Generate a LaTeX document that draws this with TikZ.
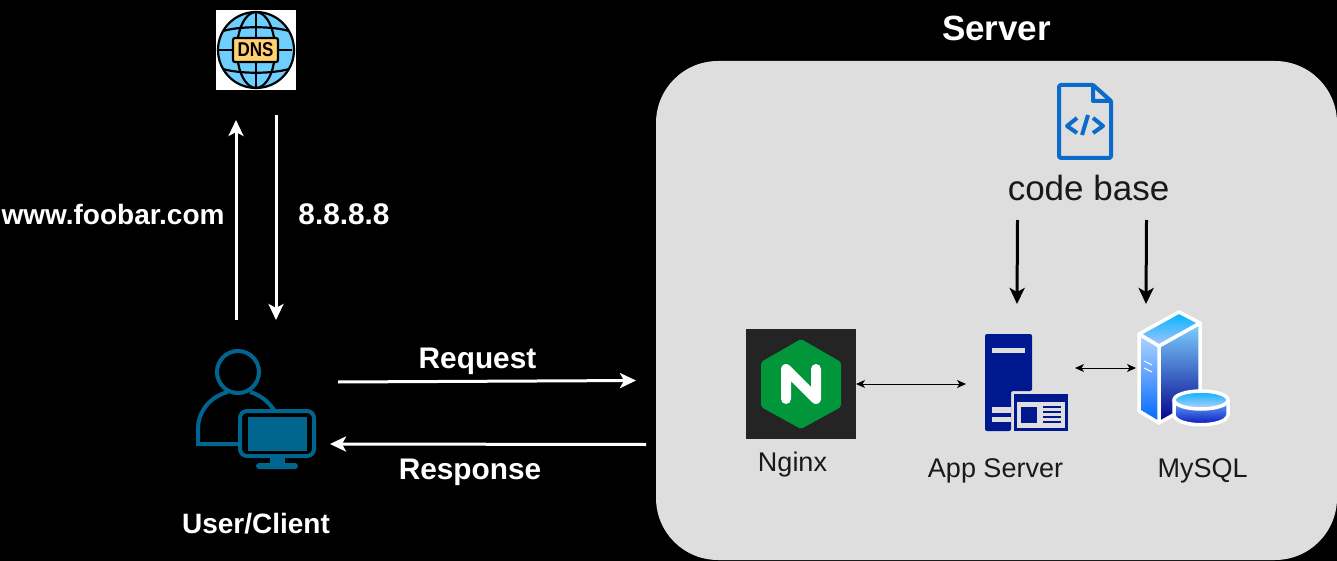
\documentclass[tikz,border=0pt]{standalone}
\usepackage{fontspec}
\setmainfont{Liberation Sans}
\usetikzlibrary{arrows.meta, positioning}
\definecolor{panelgray}{HTML}{DEDEDE}
\definecolor{userblue}{HTML}{00668F}
\definecolor{fileblue}{HTML}{0B6BCB}
\definecolor{hostblue}{HTML}{00188F}
\definecolor{nginxgreen}{HTML}{009639}
\definecolor{globeblue}{HTML}{6ECFFF}
\definecolor{tagyellow}{HTML}{FFCF70}
\tikzset{
    iconbox/.style={inner sep=0pt, outer sep=0pt},
    whitelabel/.style={text=white, inner sep=0pt, font=\fontsize{28}{30}\selectfont\bfseries},
    arrowlabel/.style={whitelabel, font=\fontsize{29.8}{32}\selectfont\bfseries},
    graylabel/.style={text=black!90, inner sep=0pt, font=\fontsize{27}{30}\selectfont},
    bigarrow/.style={white, line width=3pt, -{Stealth[length=16pt,width=15pt,inset=4pt]}},
    codearrow/.style={black, line width=3pt, -{Stealth[length=16pt,width=15pt,inset=4pt]}},
    linkarrow/.style={black, line width=1pt, {Stealth[length=9pt,width=8pt,inset=2.5pt]}-{Stealth[length=9pt,width=8pt,inset=2.5pt]}},
}

\begin{document}
\begin{tikzpicture}[x=1pt,y=-1pt]
  \useasboundingbox (0,0) rectangle (1337,561);
  \fill[black] (0,0) rectangle (1337,561);

  % server panel
  \node[iconbox, fill=panelgray, rounded corners=62pt, minimum width=681pt, minimum height=499pt] (server) at (996.5,310.5) {};
  \node[whitelabel, font=\fontsize{35}{38}\selectfont\bfseries] (servertitle) at (996.5,28) {Server};

  % dns
  \node[iconbox, fill=white, minimum size=80pt] (dns) at (256,50) {};
  \fill[globeblue] (256,50) circle[radius=38pt];
  \begin{scope}[black, line width=2.2pt]
    \draw (256,50) circle[radius=38pt];
    \draw (256,50) ellipse[x radius=19pt, y radius=38pt];
    \draw (256,12) -- (256,88);
    \draw (218,50) -- (292,50);
    \draw (223,31) .. controls (240,26) and (272,26) .. (289,31);
    \draw (223,69) .. controls (240,74) and (272,74) .. (289,69);
  \end{scope}
  \node[iconbox, draw=black, line width=2.2pt, fill=tagyellow, rounded corners=2pt, minimum width=45pt, minimum height=24pt] (dnstag) at (255.5,50) {};
  \node[iconbox, text=black, xscale=.85, font=\fontsize{20}{20}\selectfont\bfseries] (dnstext) at (255.5,50) {DNS};

  % user and screen
  \node[iconbox, minimum width=119pt, minimum height=150pt] (user) at (256.5,395) {};
  \begin{scope}[userblue, line width=4pt]
    \draw (238,372) circle[radius=21pt];
    \draw (228,392) .. controls (208,397) and (198,414) .. (198,428) -- (198,444) -- (238,444);
    \draw (250,392) .. controls (260,395) and (268,401) .. (274,410);
    \draw[rounded corners=7pt] (240,411) rectangle (314,456);
    \fill (248,417) rectangle (307,451);
    \fill (270,457) rectangle (285,464);
    \fill[rounded corners=3pt] (256,463) rectangle (298,469);
  \end{scope}

  % nginx
  \node[iconbox, fill=black!86, minimum size=110pt] (nginx) at (801,384) {};
  \fill[nginxgreen, rounded corners=2pt] (801,339) -- (841,362) -- (841,407) -- (801,429) -- (761,407) -- (761,362) -- cycle;
  \draw[white, line width=10pt, line cap=round, line join=round] (786,399) -- (786,369) -- (816,399) -- (816,369);

  % app server
  \node[iconbox, minimum width=83pt, minimum height=97pt] (appserver) at (1026.5,382.5) {};
  \fill[hostblue, rounded corners=2pt] (985,431) -- (985,334) -- (1032,334) -- (1032,391) -- (1011,391) -- (1011,431) -- cycle;
  \fill[panelgray] (992,348) rectangle (1025,353);
  \fill[panelgray] (985,407) rectangle (1011,413);
  \fill[panelgray] (985,417) rectangle (1011,422);
  \fill[hostblue] (985,407) rectangle (992,422);
  \fill[hostblue] (1014,394) rectangle (1068,431);
  \fill[panelgray] (1017,402) rectangle (1065,428);
  \fill[hostblue] (1021,407) rectangle (1037,423);
  \foreach \liney in {407,412,417,422}
    \draw[hostblue, line width=2pt] (1043,\liney) -- (1061,\liney);

  % mysql
  \node[iconbox, minimum width=89pt, minimum height=113pt] (mysql) at (1183.5,368.5) {};
  \begin{scope}[draw=white, line width=3.5pt, line join=round]
    \shade[top color=blue!35!cyan!50, bottom color=blue!55!black] (1159,346) -- (1200,323) -- (1200,400) -- (1159,423) -- cycle;
    \draw (1159,346) -- (1200,323) -- (1200,400) -- (1159,423) -- cycle;
    \shade[top color=cyan!45!blue!30, bottom color=blue!60!cyan] (1139,334) -- (1159,346) -- (1159,423) -- (1139,411) -- cycle;
    \draw (1139,334) -- (1159,346) -- (1159,423) -- (1139,411) -- cycle;
    \shade[top color=cyan!70!blue, bottom color=cyan!35!blue!35] (1179,312) -- (1200,323) -- (1159,346) -- (1139,334) -- cycle;
    \draw (1179,312) -- (1200,323) -- (1159,346) -- (1139,334) -- cycle;
    \shade[top color=blue!50!cyan!60, bottom color=blue!70!black] (1174,400) -- (1174,415) .. controls (1176,428) and (1226,428) .. (1228,415) -- (1228,400) -- cycle;
    \draw (1174,400) -- (1174,415) .. controls (1176,428) and (1226,428) .. (1228,415) -- (1228,400);
    \shade[top color=cyan!70!blue, bottom color=cyan!25!blue!25] (1201,400) ellipse[x radius=27pt, y radius=9pt];
    \draw (1201,400) ellipse[x radius=27pt, y radius=9pt];
  \end{scope}
  \draw[white, line width=1pt] (1144,361) -- (1152,365);
  \draw[white, line width=1pt] (1144,368) -- (1152,372);

  % code base
  \node[iconbox, minimum width=160pt, minimum height=32pt, text=black!90, font=\fontsize{35}{36}\selectfont] (codebase) at (1088.5,188) {code base};
  \begin{scope}[fileblue, line width=4pt, line join=round]
    \draw[rounded corners=2pt] (1093,85) -- (1059,85) -- (1059,158) -- (1111,158) -- (1111,101);
    \draw (1093,85) -- (1111,101) -- (1093,101) -- cycle;
    \draw (1077,118) -- (1067,126) -- (1077,133);
    \draw (1093,118) -- (1103,126) -- (1093,133);
    \draw (1088,115) -- (1082,135);
  \end{scope}

  % labels
  \node[whitelabel] (lookup) at (113,214) {www.foobar.com};
  \node[arrowlabel] (address) at (344,214) {8.8.8.8};
  \node[arrowlabel] (request) at (477.5,361) {Request};
  \node[arrowlabel] (response) at (470,472) {Response};
  \node[whitelabel] (client) at (256,523.5) {User/Client};
  \node[graylabel] (nginxlabel) at (792.5,465) {Nginx};
  \node[graylabel] (appserverlabel) at (995.5,471) {App Server};
  \node[graylabel] (mysqllabel) at (1202.5,471) {MySQL};

  % connectors
  \draw[bigarrow] ([xshift=-20.5]user.north) -- ([shift={(-20,30)}]dns.south);
  \draw[bigarrow] ([shift={(20,25)}]dns.south) -- ([xshift=19.5]user.north);
  \draw[bigarrow] ([shift={(22,-13)}]user.east) -- ([shift={(-20,70)}]server.west);
  \draw[bigarrow] ([shift={(-10,134)}]server.west) -- ([shift={(14,49)}]user.east);
  \draw[codearrow] ([shift={(-71,16)}]codebase.south) -- ([shift={(-9.5,-30)}]appserver.north);
  \draw[codearrow] ([shift={(58,16)}]codebase.south) -- ([shift={(-37.5,-8)}]mysql.north);
  \draw[linkarrow] (nginx.east) -- ([shift={(-19,1.5)}]appserver.west);
  \draw[linkarrow] ([shift={(7,-14.5)}]appserver.east) -- ([shift={(-3,-.5)}]mysql.west);
\end{tikzpicture}
\end{document}
